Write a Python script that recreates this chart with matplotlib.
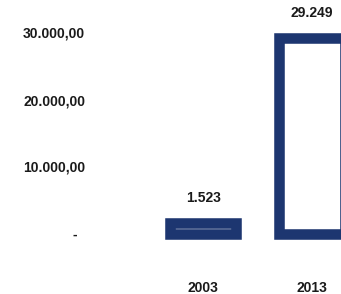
import matplotlib
matplotlib.use('Agg')
import matplotlib.pyplot as plt

# Data
years = ['2003', '2013']
values = [1523, 29249]
value_labels = ['1.523', '29.249']
y_ticks = [0, 10000, 20000, 30000]
y_tick_labels = ['-  ', '10.000,00', '20.000,00', '30.000,00']

navy = '#1d3670'
text_color = '#1a1a1a'
plt.rcParams['font.family'] = ['Liberation Sans', 'DejaVu Sans']

fig = plt.figure(figsize=(3.41, 2.94), dpi=100)
W, H = 341, 294
ax_left, ax_bottom_px, ax_top_px = 95, 260, 0
ax = fig.add_axes([ax_left / W, (H - ax_bottom_px) / H,
                   (W - ax_left) / W, (ax_bottom_px - ax_top_px) / H])

positions = range(len(years))
ax.bar(positions, values, width=0.61, color='white', edgecolor=navy,
       linewidth=7.6)

# Value labels above bars
for x, v, lab in zip(positions, values, value_labels):
    ax.annotate(lab, (x, v), xytext=(0, 18), textcoords='offset points',
                ha='center', va='center', fontsize=10, fontweight='bold',
                color=text_color)

# Axes scaling: zero at ~233.5 px, 67 px per 10000
px_per_unit = 67 / 10000
zero_px = 233.5
ax.set_ylim(-(ax_bottom_px - zero_px) / px_per_unit,
            (zero_px - ax_top_px) / px_per_unit)
ax.set_xlim(-(203.4 - ax_left) / 108.4, (W - 203.4) / 108.4)

ax.set_yticks(y_ticks)
ax.set_yticklabels(y_tick_labels, fontsize=10, fontweight='bold', color=text_color)
ax.set_xticks(list(positions))
ax.set_xticklabels(years, fontsize=10, fontweight='bold', color=text_color)
ax.tick_params(axis='both', length=0)
ax.tick_params(axis='y', pad=7)
ax.tick_params(axis='x', pad=15)

for s in ax.spines.values():
    s.set_visible(False)

fig.savefig('out.png', dpi=100)
